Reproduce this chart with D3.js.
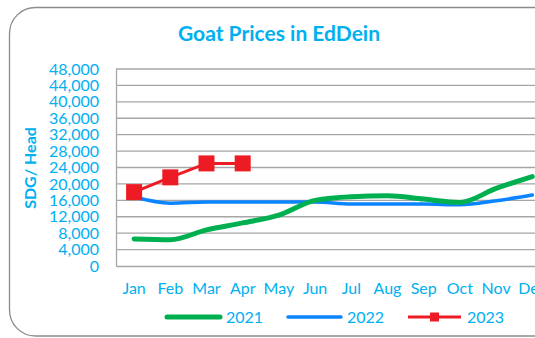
<!DOCTYPE html>
<html>
<head>
<meta charset="utf-8">
<script src="https://cdn.jsdelivr.net/npm/d3@7"></script>
<style>
  html, body { margin: 0; padding: 0; background: #fff; overflow: hidden; }
  svg { display: block; font-family: Lato, "Open Sans", sans-serif; }
</style>
</head>
<body>
<svg id="chart" width="535" height="338"></svg>
<script>
// Monthly goat prices (SDG per head) in EdDein
const months = ["Jan", "Feb", "Mar", "Apr", "May", "Jun", "Jul", "Aug", "Sep", "Oct", "Nov", "Dec"];
const prices2021 = [6600, 6400, 8800, 10500, 12400, 16000, 16900, 17100, 16300, 15500, 18900, 21800];
const prices2022 = [16800, 15300, 15600, 15600, 15600, 15600, 15100, 15100, 15100, 14900, 15900, 17300];
const prices2023 = [18000, 21600, 25000, 25000];
const yTicks = [0, 4000, 8000, 12000, 16000, 20000, 24000, 28000, 32000, 36000, 40000, 44000, 48000];
const seriesNames = ["2021", "2022", "2023"];

const textColor = "#00B0F0";
const colors = { "2021": "#00B050", "2022": "#0A84FF", "2023": "#ED1C24" };

const svg = d3.select("#chart");

// outer chart frame with rounded corners
svg.append("rect")
  .attr("x", 9.5).attr("y", 7.5)
  .attr("width", 560).attr("height", 328.5)
  .attr("rx", 26).attr("ry", 26)
  .attr("fill", "#fff").attr("stroke", "#8c8c8c").attr("stroke-width", 1.3);

const plot = { left: 116, top: 69, bandW: 36.2, bottom: 266 };

const x = d3.scaleBand().domain(months)
  .range([plot.left, plot.left + plot.bandW * months.length]);
const y = d3.scaleLinear().domain([0, 48000]).range([plot.bottom, plot.top]);
const cx = m => x(m) + x.bandwidth() / 2;

// title
svg.append("text")
  .attr("x", 279).attr("y", 41)
  .attr("text-anchor", "middle")
  .attr("fill", textColor)
  .attr("font-weight", "bold")
  .attr("font-size", 21)
  .text("Goat Prices in EdDein");

// horizontal gridlines
svg.append("g")
  .selectAll("line")
  .data(yTicks.filter(t => t > 0))
  .join("line")
  .attr("x1", plot.left).attr("x2", 535)
  .attr("y1", d => y(d)).attr("y2", d => y(d))
  .attr("stroke", "#a6a6a6").attr("stroke-width", 1.3);

// y axis
const yAxis = svg.append("g")
  .attr("transform", `translate(${plot.left},0)`)
  .call(d3.axisLeft(y).tickValues(yTicks).tickFormat(d3.format(",")).tickSize(0).tickPadding(17));
yAxis.select(".domain").attr("stroke", "#a6a6a6").attr("stroke-width", 1.3);
yAxis.selectAll("text").attr("fill", textColor).attr("font-size", 16)
  .attr("font-family", "Lato, 'Open Sans', sans-serif");

// x axis
const xAxis = svg.append("g")
  .attr("transform", `translate(0,${plot.bottom})`)
  .call(d3.axisBottom(x).tickSize(0).tickPadding(17));
xAxis.select(".domain").attr("stroke", "#a6a6a6").attr("stroke-width", 1.3);
xAxis.selectAll("text").attr("fill", textColor).attr("font-size", 16)
  .attr("font-family", "Lato, 'Open Sans', sans-serif");

// y axis title
svg.append("text")
  .attr("transform", "translate(36,168) rotate(-90)")
  .attr("text-anchor", "middle")
  .attr("fill", textColor)
  .attr("font-weight", "bold")
  .attr("font-size", 16)
  .text("SDG/ Head");

// series lines
const smooth = d3.line().x((d, i) => cx(months[i])).y(d => y(d)).curve(d3.curveMonotoneX);
const straight = d3.line().x((d, i) => cx(months[i])).y(d => y(d));

svg.append("path").datum(prices2022)
  .attr("d", smooth).attr("fill", "none")
  .attr("stroke", colors["2022"]).attr("stroke-width", 3.5).attr("stroke-linecap", "round");

svg.append("path").datum(prices2021)
  .attr("d", smooth).attr("fill", "none")
  .attr("stroke", colors["2021"]).attr("stroke-width", 5).attr("stroke-linecap", "round");

svg.append("path").datum(prices2023)
  .attr("d", straight).attr("fill", "none")
  .attr("stroke", colors["2023"]).attr("stroke-width", 3);

const sq = 16;
svg.append("g").selectAll("rect")
  .data(prices2023)
  .join("rect")
  .attr("x", (d, i) => cx(months[i]) - sq / 2)
  .attr("y", d => y(d) - sq / 2)
  .attr("width", sq).attr("height", sq)
  .attr("fill", colors["2023"]);

// legend
const legendX = [167, 288, 408];
const legendY = 317;
const lg = svg.append("g");
seriesNames.forEach((name, i) => {
  const x0 = legendX[i];
  const w = name === "2021" ? 5 : (name === "2022" ? 3.5 : 3);
  lg.append("line")
    .attr("x1", x0).attr("x2", x0 + 53)
    .attr("y1", legendY).attr("y2", legendY)
    .attr("stroke", colors[name]).attr("stroke-width", w)
    .attr("stroke-linecap", name === "2023" ? "butt" : "round");
  if (name === "2023") {
    lg.append("rect")
      .attr("x", x0 + 26.5 - 4.5).attr("y", legendY - 4.5)
      .attr("width", 9).attr("height", 9)
      .attr("fill", colors[name]);
  }
  lg.append("text")
    .attr("x", x0 + 59).attr("y", legendY + 6)
    .attr("fill", textColor).attr("font-size", 16)
    .text(name);
});
</script>
</body>
</html>
